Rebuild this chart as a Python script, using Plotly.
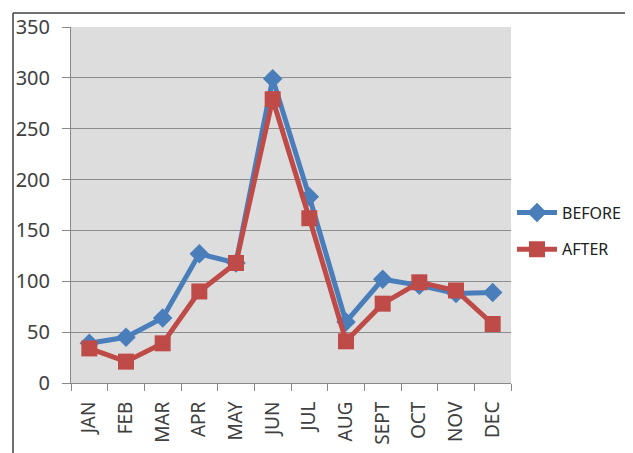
import plotly.graph_objects as go

months = ["JAN", "FEB", "MAR", "APR", "MAY", "JUN", "JUL", "AUG", "SEPT", "OCT", "NOV", "DEC"]
before = [39, 45, 64, 127, 118, 299, 183, 60, 102, 96, 88, 89]
after = [34, 21, 39, 90, 118, 279, 162, 41, 78, 99, 91, 58]
y_ticks = [0, 50, 100, 150, 200, 250, 300, 350]

BLUE = "#4A7EBB"
RED = "#BE4B48"

fig = go.Figure()
fig.add_trace(go.Scatter(
    x=months, y=before, name="BEFORE", mode="lines+markers", legendgroup="a",
    line=dict(color=BLUE, width=5),
    marker=dict(symbol="diamond", size=15, color=BLUE),
))
fig.add_trace(go.Scatter(
    x=months, y=after, name="AFTER", mode="lines+markers", legendgroup="b",
    line=dict(color=RED, width=5),
    marker=dict(symbol="square", size=16, color=RED),
))

# page body has an 8px margin; figure coordinates are screen minus 8
OFF = 8
W, H = 625, 445
L, R, T, B = 71 - OFF, 122, 27 - OFF, 70
pw, ph = W - L - R, H - T - B

def px(x):
    return (x - OFF - L) / pw

def py(y):
    return (H - B - (y - OFF)) / ph

fig.update_layout(
    width=W, height=H,
    margin=dict(l=L, r=R, t=T, b=B, pad=0, autoexpand=False),
    paper_bgcolor="white",
    plot_bgcolor="#dddddd",
    font=dict(family="Noto Sans, Liberation Sans, sans-serif", size=20, color="#404040"),
    showlegend=True,
    legend=dict(
        x=px(512), xanchor="left", y=py(231), yanchor="middle",
        font=dict(size=16, color="#202020"),
        bgcolor="rgba(0,0,0,0)",
        tracegroupgap=13,
        traceorder="grouped",
        itemwidth=40,
    ),
    xaxis=dict(
        type="category", categoryorder="array", categoryarray=months,
        range=[-0.5, 11.5],
        automargin=False,
        tickangle=-90,
        showgrid=False,
        showline=True, linecolor="#888888", linewidth=1,
        ticks="outside", ticklen=7, tickcolor="#888888",
        tickson="boundaries",
        ticklabelstandoff=10,
        tickfont=dict(size=19, color="#404040"),
    ),
    yaxis=dict(
        range=[0, 350],
        automargin=False,
        tickvals=y_ticks,
        showgrid=True, gridcolor="#8c8c8c", gridwidth=1,
        showline=True, linecolor="#888888", linewidth=1,
        ticks="outside", ticklen=8, tickcolor="#888888",
        ticklabelstandoff=8,
        tickfont=dict(size=20, color="#404040"),
        zeroline=False,
    ),
    shapes=[
        dict(type="line", xref="paper", yref="paper",
             x0=px(13), x1=px(640), y0=py(13), y1=py(13),
             line=dict(color="#404040", width=1.5)),
        dict(type="line", xref="paper", yref="paper",
             x0=px(13), x1=px(13), y0=py(13), y1=py(460),
             line=dict(color="#404040", width=1.5)),
    ],
)

fig.write_html("out.html")
